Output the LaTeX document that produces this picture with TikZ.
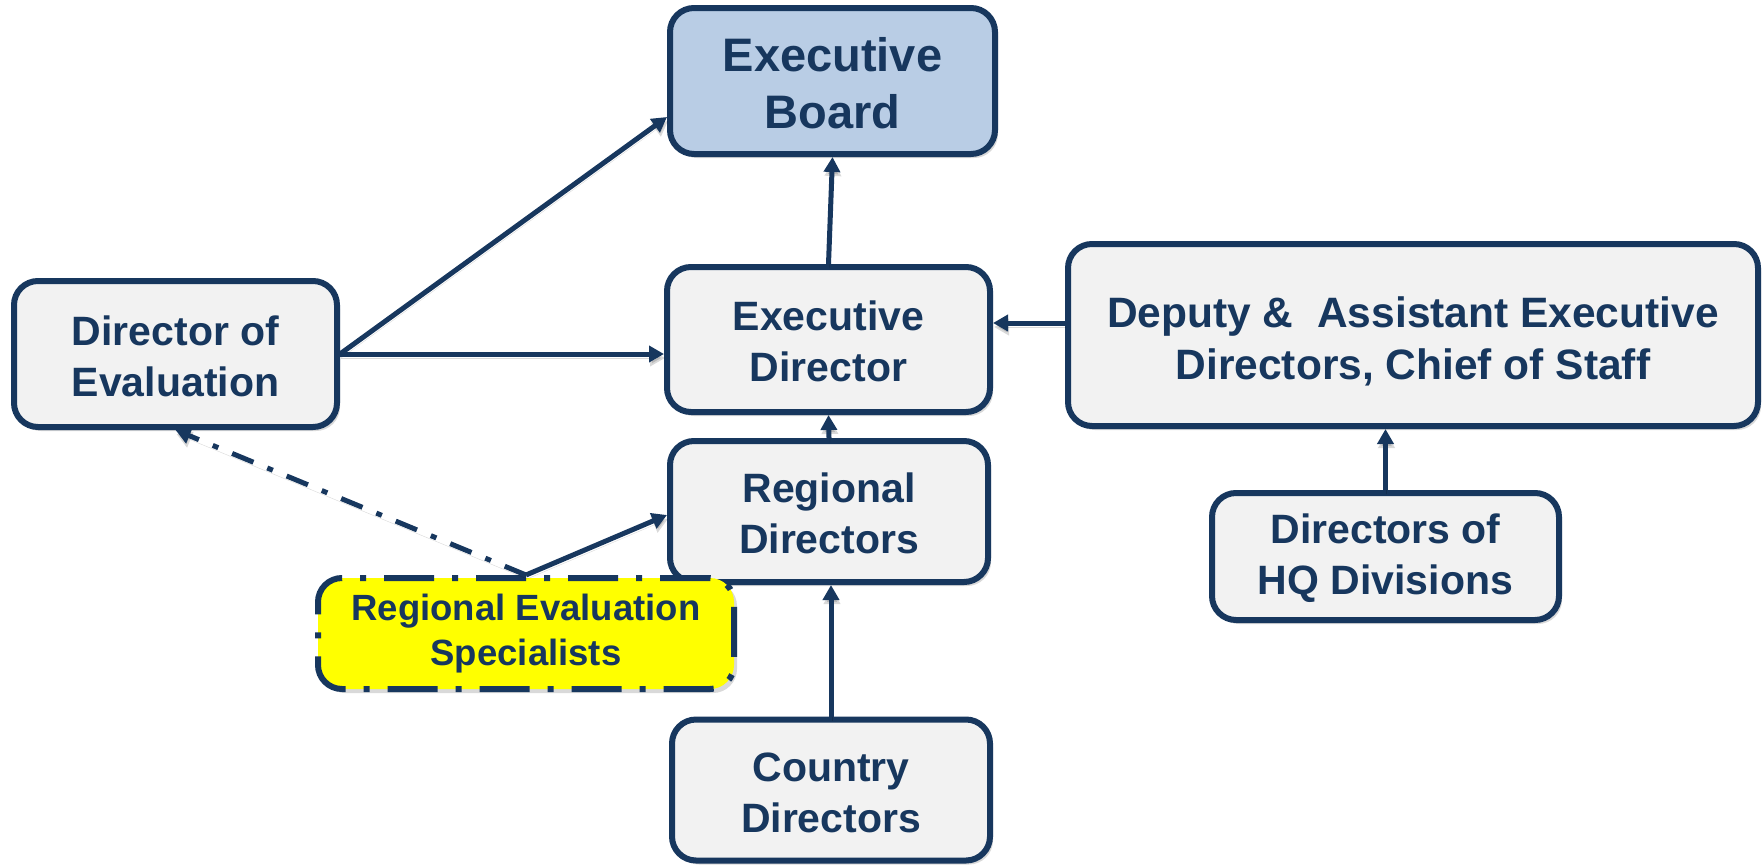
\documentclass[tikz,border=0pt]{standalone}
\usepackage{fontspec}
\setmainfont{Liberation Sans}
\usetikzlibrary{arrows.meta,shadows,calc}
\definecolor{navy}{HTML}{17375E}
\definecolor{boxgray}{HTML}{F2F2F2}
\definecolor{ebblue}{HTML}{B9CDE5}
\definecolor{yel}{HTML}{FFFF00}
\begin{document}
\begin{tikzpicture}[x=1pt,y=-1pt,
  orgbox/.style={draw=navy, line width=6pt, rounded corners=24pt, fill=boxgray,
    text=navy, font=\bfseries\fontsize{41}{51}\selectfont, align=center, inner sep=0pt,
    drop shadow={shadow xshift=3pt, shadow yshift=-4pt, opacity=0.25, fill=black!60}},
  conn/.style={draw=navy, line width=5pt, -{Triangle[length=15pt,width=16pt]},
    preaction={draw=black, opacity=0.15, transform canvas={xshift=1pt,yshift=-4pt}}},
  dashdot/.style={dash pattern=on 23pt off 15pt on 6pt off 15pt},
  borderdashdot/.style={dash pattern=on 50pt off 18pt on 6pt off 18pt},
]
\useasboundingbox (0,0) rectangle (1763,865);

\node[orgbox, fill=ebblue, font=\bfseries\fontsize{47}{57}\selectfont,
  minimum width=325pt, minimum height=146pt] (EB) at (832.5,81) {\rule{0pt}{0.83em}Executive\\Board};
\node[orgbox, minimum width=323pt, minimum height=145pt] (ED) at (828.5,339.5) {\rule{0pt}{0.83em}Executive\\Director};
\node[orgbox, minimum width=323pt, minimum height=146pt] (DoE) at (175.5,354) {\rule{0pt}{0.83em}Director of\\Evaluation};
\node[orgbox, font=\bfseries\fontsize{42.5}{52}\selectfont, minimum width=690pt, minimum height=182pt] (DEP) at (1413,335)
  {\rule{0pt}{1.02em}Deputy \&\ \ Assistant Executive\\Directors, Chief of Staff};
\node[orgbox, minimum width=347pt, minimum height=127pt] (HQ) at (1385.5,556.5) {\rule{0pt}{0.83em}Directors of\\HQ Divisions};
\node[orgbox, minimum width=318pt, minimum height=141pt] (RD) at (829,511.5) {\rule{0pt}{0.83em}Regional\\Directors};
\node[orgbox, minimum width=318pt, minimum height=141pt] (CD) at (831,790) {\rule{0pt}{0.83em}Country\\Directors};
\node[orgbox, fill=yel, borderdashdot, font=\bfseries\fontsize{36.5}{45}\selectfont,
  minimum width=416pt, minimum height=111pt] (RES) at (526,633.5) {Regional Evaluation\\Specialists};

\draw[conn] (DoE.east) -- ([yshift=-36pt]EB.west);
\draw[conn] (DoE.east) -- (DoE.east -| ED.west);
\draw[conn] (ED.north) -- (EB.south);
\draw[conn] ([yshift=12pt]DEP.west) -- ([yshift=12pt]DEP.west -| ED.east);
\draw[conn] (RD.north) -- (ED.south);
\draw[conn] (CD.north) -- (CD.north |- RD.south);
\draw[conn] (HQ.north) -- (HQ.north |- DEP.south);
\draw[conn] (RES.north) -- ([yshift=-3.5pt]RD.west);
\draw[conn, dashdot] (RES.north) -- (DoE.south);
\end{tikzpicture}
\end{document}
